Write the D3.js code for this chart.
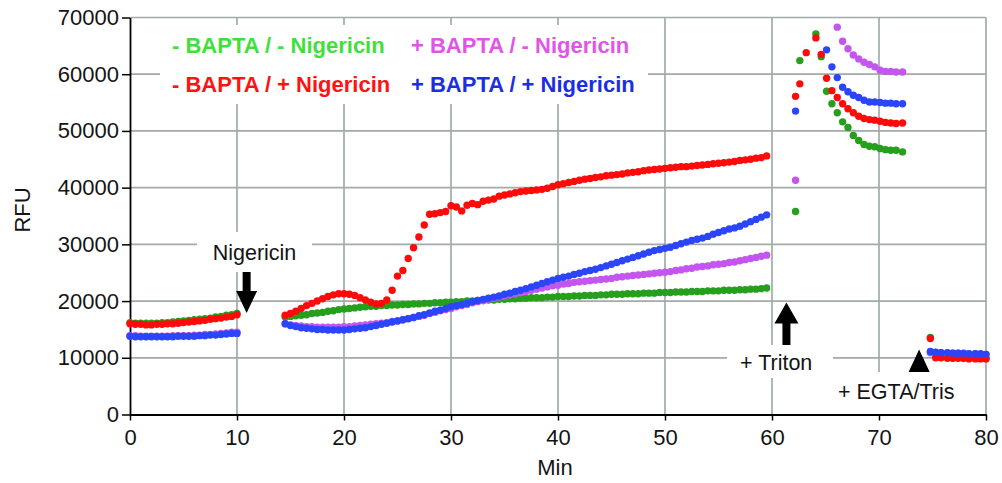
<!DOCTYPE html>
<html>
<head>
<meta charset="utf-8">
<script src="https://cdn.jsdelivr.net/npm/d3@7"></script>
<style>
  body { margin: 0; background: #fff; }
  text { font-family: "Liberation Sans", Arial, sans-serif; }
</style>
</head>
<body>
<div id="chart"></div>
<script>
// sampling times (min) for the four read-out blocks
const times1 = d3.range(0, 10.01, 0.5);
const times2 = d3.range(14.5, 59.51, 0.5);
const times3 = [62.2, 62.6, 63.2, 63.7, 64.1, 64.6, 65.1, 65.6, 66.1, 66.6, 67.1, 67.6, 68.1, 68.6, 69.1, 69.6, 70.1, 70.6, 71.1, 71.6, 72.2];
const times4 = [74.8, 75.3, 75.8, 76.4, 76.9, 77.4, 77.9, 78.4, 79.0, 79.5, 80.0];
const times = times1.concat(times2, times3, times4);

// - BAPTA / - Nigericin
const noBaptaNoNig = [
  16200, 16100, 16100, 16100, 16100, 16100, 16200, 16200, 16300, 16400, 16500, 16600, 16700, 16800, 16900, 17000, 17200, 17300, 17500, 17600, 17800,
  17200, 17300, 17400, 17500, 17600, 17800, 17900, 18000, 18200, 18300,
  18500, 18600, 18700, 18800, 18900, 19000, 19100, 19100, 19200, 19200,
  19300, 19300, 19400, 19400, 19500, 19500, 19600, 19600, 19700, 19700,
  19800, 19800, 19900, 19900, 20000, 20000, 20100, 20100, 20200, 20200,
  20300, 20300, 20400, 20400, 20500, 20500, 20600, 20600, 20600, 20700,
  20700, 20800, 20800, 20800, 20900, 20900, 21000, 21000, 21000, 21100,
  21100, 21200, 21200, 21200, 21300, 21300, 21300, 21400, 21400, 21400,
  21500, 21500, 21500, 21600, 21600, 21600, 21700, 21700, 21700, 21800,
  21800, 21800, 21900, 21900, 21900, 22000, 22000, 22100, 22100, 22200,
  22300,
  35800, 62400, null, null, 67100, 63100, 57000, 54800, 53200, 51600, 50600, 49200, 48300, 47600, 47300, 47200, 46900, 46700, 46600, 46600, 46300,
  13600, 10200, 10100, 10100, 10000, 10000, 10000, 9900, 9900, 9900, 9900
];

// + BAPTA / - Nigericin
const baptaNoNig = [
  13900, 13900, 13800, 13800, 13800, 13800, 13800, 13800, 13900, 13900, 13900, 13900, 14000, 14000, 14100, 14100, 14200, 14300, 14400, 14500, 14500,
  16000, 15800, 15700, 15600, 15500, 15500, 15400, 15400, 15400, 15400,
  15400, 15500, 15500, 15600, 15700, 15800, 15900, 16000, 16100, 16200,
  16400, 16500, 16700, 16900, 17100, 17300, 17500, 17800, 18000, 18300,
  18500, 18700, 19000, 19200, 19400, 19700, 19900, 20100, 20300, 20500,
  20700, 20900, 21100, 21300, 21500, 21700, 21900, 22100, 22300, 22500,
  22700, 22800, 23000, 23100, 23300, 23400, 23500, 23600, 23700, 23800,
  23900, 24000, 24200, 24300, 24400, 24500, 24600, 24700, 24800, 24900,
  25000, 25100, 25200, 25400, 25500, 25700, 25800, 26000, 26100, 26200,
  26400, 26500, 26600, 26800, 26900, 27100, 27300, 27500, 27700, 27900,
  28100,
  41300, null, null, null, null, null, null, null, 68300, 65800, 64500, 63400, 62700, 62100, 61700, 61300, 60700, 60500, 60500, 60400, 60400,
  10900, 10900, 10900, 10800, 10800, 10800, 10700, 10700, 10700, 10600, 10600
];

// - BAPTA / + Nigericin
const noBaptaNig = [
  16000, 15900, 15900, 15800, 15800, 15900, 15900, 16000, 16000, 16100, 16200, 16300, 16400, 16500, 16600, 16800, 16900, 17000, 17200, 17300, 17600,
  17500, 17800, 18200, 18700, 19200, 19600, 20000, 20400, 20800, 21100,
  21300, 21300, 21200, 21000, 20600, 20200, 19800, 19500, 19600, 20200,
  21900, 24400, 25400, 27500, 29400, 31300, 33400, 35300, 35400, 35600,
  35800, 36800, 36600, 35900, 36900, 37200, 37000, 37600, 37800, 38000,
  38500, 38700, 38900, 39100, 39300, 39400, 39500, 39600, 39700, 39900,
  40200, 40500, 40700, 40900, 41100, 41300, 41500, 41600, 41800, 41900,
  42100, 42200, 42300, 42400, 42600, 42700, 42800, 43000, 43100, 43200,
  43300, 43400, 43500, 43600, 43700, 43700, 43800, 43900, 44000, 44100,
  44200, 44300, 44400, 44500, 44600, 44800, 44900, 45000, 45200, 45300,
  45600,
  56100, 58300, 63800, null, 66400, 63500, 59300, 57100, 55900, 54800, 53900, 53200, 52600, 52200, 52000, 51900, 51700, 51500, 51400, 51300, 51400,
  13400, 10000, 10000, 9900, 9900, 9900, 9900, 9800, 9800, 9800, 9800
];

// + BAPTA / + Nigericin
const baptaNig = [
  13800, 13700, 13700, 13700, 13700, 13700, 13700, 13700, 13700, 13800, 13800, 13800, 13800, 13900, 13900, 14000, 14000, 14100, 14200, 14300, 14300,
  16000, 15700, 15500, 15300, 15200, 15100, 15000, 15000, 14900, 14900,
  14900, 14900, 15000, 15100, 15200, 15300, 15500, 15700, 15900, 16100,
  16300, 16500, 16700, 16900, 17100, 17400, 17600, 17900, 18200, 18400,
  18700, 19000, 19200, 19400, 19600, 19900, 20100, 20300, 20500, 20700,
  20900, 21200, 21400, 21700, 21900, 22200, 22500, 22800, 23100, 23400,
  23700, 24000, 24200, 24400, 24700, 24900, 25200, 25400, 25600, 25900,
  26200, 26500, 26800, 27100, 27400, 27700, 28000, 28300, 28600, 28900,
  29100, 29300, 29500, 29800, 30100, 30400, 30700, 30900, 31100, 31400,
  31800, 32100, 32400, 32700, 32900, 33200, 33600, 34000, 34400, 34800,
  35200,
  53500, null, null, null, null, null, 64300, 61300, 59400, 57700, 56900, 56300, 55900, 55400, 55100, 55100, 55000, 54900, 54900, 54800, 54800,
  11100, 11000, 10900, 10900, 10800, 10800, 10800, 10700, 10700, 10700, 10600
];

const seriesData = [noBaptaNoNig, baptaNoNig, noBaptaNig, baptaNig];
const legendLabels = ['- BAPTA / - Nigericin', '+ BAPTA / - Nigericin', '- BAPTA / + Nigericin', '+ BAPTA / + Nigericin'];
const markerColors = ['#259f1c', '#c256ee', '#ff0a0a', '#2b45fb'];
const legendColors = ['#3fe03a', '#e055e6', '#ff1212', '#1c2ee4'];

const xTicks = [0, 10, 20, 30, 40, 50, 60, 70, 80];
const yTicks = [0, 10000, 20000, 30000, 40000, 50000, 60000, 70000];

const width = 1002, height = 483;
const gridColor = '#a2aaaa';

const svg = d3.select('#chart').append('svg')
  .attr('width', width)
  .attr('height', height);

const x = d3.scaleLinear().domain([0, 80]).range([130, 986]);
const y = d3.scaleLinear().domain([0, 70000]).range([414.5, 17.5]);

// grid (includes top and right border)
svg.append('g')
  .selectAll('line.h')
  .data(yTicks.slice(1))
  .enter().append('line')
  .attr('x1', x(0)).attr('x2', x(80))
  .attr('y1', d => y(d)).attr('y2', d => y(d))
  .attr('stroke', gridColor).attr('stroke-width', 1.7);

svg.append('g')
  .selectAll('line.v')
  .data(xTicks.slice(1))
  .enter().append('line')
  .attr('x1', d => x(d)).attr('x2', d => x(d))
  .attr('y1', y(0)).attr('y2', y(70000))
  .attr('stroke', gridColor).attr('stroke-width', 1.7);

// white boxes behind the text labels hide the grid
const boxes = [
  [160, 25, 488, 79],   // legend
  [197, 232, 115, 40],  // Nigericin
  [727, 345, 106, 33],  // + Triton
  [826, 372, 144, 42]   // + EGTA/Tris
];

// arrows (drawn before the boxes, shafts partly covered)
function arrow(cx, tip, dir, headH, headW, shaftLen) {
  const base = tip - dir * headH;
  const end = base - dir * shaftLen;
  return `M${cx},${tip} L${cx + headW},${base} L${cx + 4},${base} L${cx + 4},${end} L${cx - 4},${end} L${cx - 4},${base} L${cx - headW},${base} Z`;
}
svg.append('path').attr('d', arrow(x(10.9), 313, 1, 22, 10.5, 20)).attr('fill', '#000');
svg.append('path').attr('d', arrow(x(61.35), 302.5, -1, 21, 12, 24)).attr('fill', '#000');
svg.append('path').attr('d', arrow(x(73.75), 349.5, -1, 23.5, 11, 10)).attr('fill', '#000');

svg.append('g')
  .selectAll('rect')
  .data(boxes)
  .enter().append('rect')
  .attr('x', d => d[0]).attr('y', d => d[1])
  .attr('width', d => d[2]).attr('height', d => d[3])
  .attr('fill', '#fff');

// axes
const yAxis = svg.append('g')
  .attr('transform', `translate(${x(0)},0)`)
  .call(d3.axisLeft(y).tickValues(yTicks).tickSize(8).tickSizeOuter(0).tickPadding(3).tickFormat(d3.format('d')));

const xAxis = svg.append('g')
  .attr('transform', `translate(0,${y(0)})`)
  .call(d3.axisBottom(x).tickValues(xTicks).tickSize(6).tickSizeOuter(0).tickPadding(9));

[yAxis, xAxis].forEach(a => {
  a.selectAll('path.domain').attr('stroke', '#000').attr('stroke-width', 1.8);
  a.selectAll('.tick line').attr('stroke', '#000').attr('stroke-width', 1.5);
  a.selectAll('.tick text')
    .attr('fill', '#141414')
    .style('font-size', '22px')
    .style('font-family', '"Liberation Sans", Arial, sans-serif');
});

svg.append('text')
  .attr('x', 555).attr('y', 475)
  .attr('text-anchor', 'middle')
  .attr('fill', '#141414')
  .style('font-size', '22px')
  .text('Min');

svg.append('text')
  .attr('transform', 'translate(30,210) rotate(-90)')
  .attr('text-anchor', 'middle')
  .attr('fill', '#141414')
  .style('font-size', '22px')
  .text('RFU');

// annotations
svg.append('text').attr('x', 254.5).attr('y', 260).attr('text-anchor', 'middle')
  .attr('fill', '#141414').style('font-size', '21.5px').text('Nigericin');
svg.append('text').attr('x', 740).attr('y', 370)
  .attr('fill', '#141414').style('font-size', '21.5px').text('+ Triton');
svg.append('text').attr('x', 838).attr('y', 399)
  .attr('fill', '#141414').style('font-size', '21.5px').text('+ EGTA/Tris');

// legend
const legendPos = [[172, 53], [411, 53], [172, 91.5], [411, 91.5]];
svg.append('g')
  .selectAll('text')
  .data(legendLabels)
  .enter().append('text')
  .attr('x', (d, i) => legendPos[i][0])
  .attr('y', (d, i) => legendPos[i][1])
  .attr('fill', (d, i) => legendColors[i])
  .style('font-size', '22px')
  .style('font-weight', 'bold')
  .text(d => d);

// markers
seriesData.forEach((vals, i) => {
  const pts = vals.map((v, j) => ({t: times[j], v: v})).filter(p => p.v !== null);
  svg.append('g')
    .selectAll('circle')
    .data(pts)
    .enter().append('circle')
    .attr('cx', d => x(d.t))
    .attr('cy', d => y(d.v))
    .attr('r', 3.7)
    .attr('fill', markerColors[i]);
});
</script>
</body>
</html>
